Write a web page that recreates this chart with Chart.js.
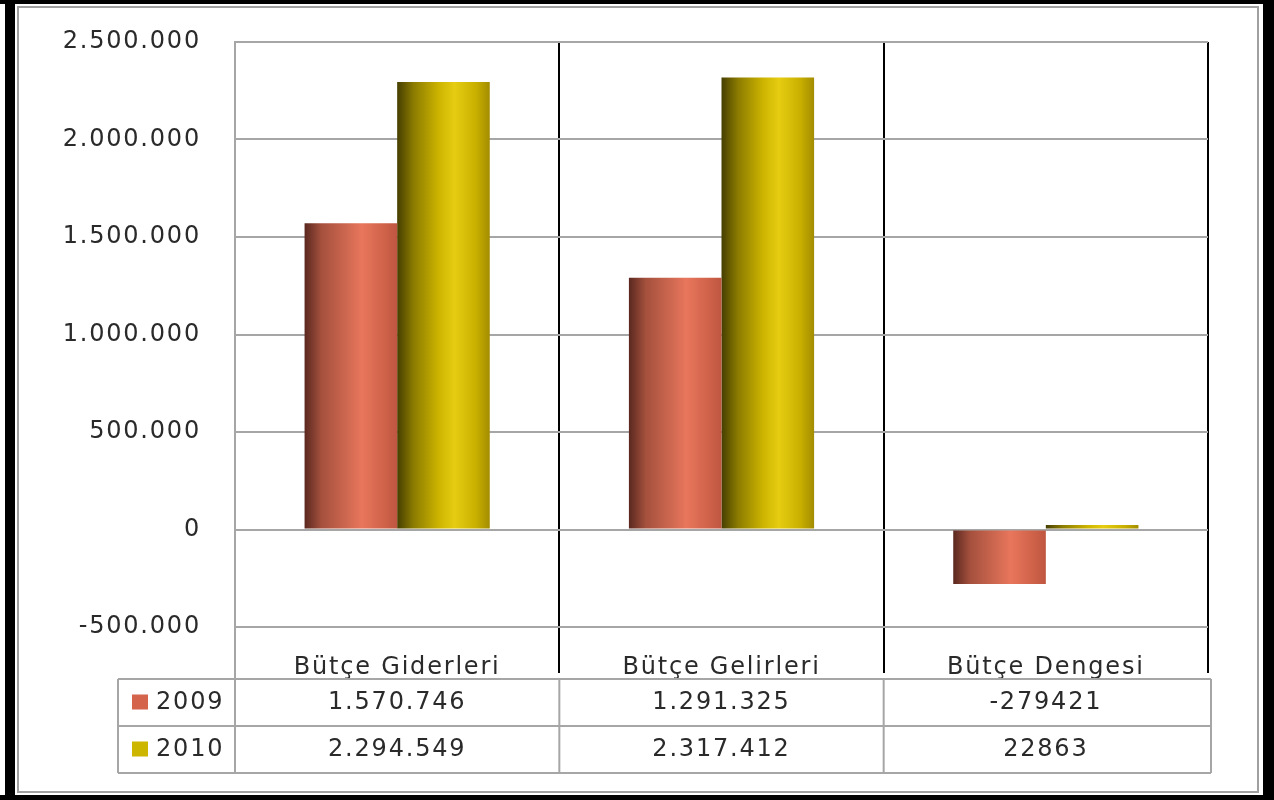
<!DOCTYPE html>
<html>
<head>
<meta charset="utf-8">
<script src="https://cdn.jsdelivr.net/npm/chart.js@4/dist/chart.umd.min.js"></script>
<style>
    body { margin: 0; background: #fff; }
    canvas { display: block; }
</style>
</head>
<body>
<canvas id="budget-chart" width="1274" height="800"></canvas>
<script>

const categories = ["Bütçe Giderleri", "Bütçe Gelirleri", "Bütçe Dengesi"];
const seriesNames = ["2009", "2010"];
const values2009 = [1570746, 1291325, -279421];
const values2010 = [2294549, 2317412, 22863];
// the data table uses dot grouping only for the first two columns
const tableDotted = [true, true, false];
const yTicks = [-500000, 0, 500000, 1000000, 1500000, 2000000, 2500000];

const FONT = "'DejaVu Sans', Verdana, sans-serif";
const TEXT_COLOR = "#2a2a2a";
const GRID_GREY = "#a6a6a6";
const keyColors = ["#d4654c", "#cdb600"];

function dotted(v) {
    const s = String(Math.abs(v)).replace(/\B(?=(\d{3})+(?!\d))/g, ".");
    return (v < 0 ? "-" : "") + s;
}

function tableText(v, i) {
    return tableDotted[i] ? dotted(v) : String(v);
}

// cylinder-like shading, one gradient per bar
const barStops = [
    [[0, "#5a281f"], [0.18, "#a4503d"], [0.62, "#e8765c"], [0.85, "#d0634a"], [1, "#bf5640"]],
    [[0, "#463e00"], [0.18, "#8c7c00"], [0.45, "#cdb400"], [0.62, "#e6cd12"], [0.85, "#c9b000"], [1, "#a38c00"]]
];

const shadingPlugin = {
    id: "shading",
    beforeDraw(chart) {
        const ctx = chart.ctx;
        ctx.letterSpacing = "1.8px";
        ctx.fillStyle = "#fff";
        ctx.fillRect(0, 0, chart.width, chart.height);
    },
    beforeDatasetsDraw(chart) {
        const ctx = chart.ctx;
        chart.data.datasets.forEach((ds, di) => {
            const meta = chart.getDatasetMeta(di);
            meta.data.forEach(el => {
                const g = ctx.createLinearGradient(el.x - el.width / 2, 0, el.x + el.width / 2, 0);
                barStops[di].forEach(s => g.addColorStop(s[0], s[1]));
                el.options.backgroundColor = g;
            });
        });
    }
};

const tablePlugin = {
    id: "dataTable",
    afterDraw(chart) {
        const ctx = chart.ctx;
        const x = chart.scales.x;
        const colW = x.width / categories.length;
        const left = 118;
        const rows = [679, 726, 773];
        const edges = [left];
        for (let i = 0; i <= categories.length; i++) edges.push(x.left + i * colW);

        ctx.save();
        ctx.strokeStyle = GRID_GREY;
        ctx.lineWidth = 2;
        ctx.beginPath();
        rows.forEach(y => {
            ctx.moveTo(left, y);
            ctx.lineTo(x.right + 3, y);
        });
        edges.forEach((ex, i) => {
            ctx.moveTo(i === edges.length - 1 ? ex + 3 : ex, rows[0]);
            ctx.lineTo(i === edges.length - 1 ? ex + 3 : ex, rows[2]);
        });
        ctx.moveTo(x.left, x.top);
        ctx.lineTo(x.left, rows[0]);
        ctx.stroke();

        ctx.letterSpacing = "1.8px";
        ctx.font = "24px " + FONT;
        ctx.textBaseline = "middle";
        [values2009, values2010].forEach((vals, r) => {
            const cy = (rows[r] + rows[r + 1]) / 2;
            ctx.fillStyle = keyColors[r];
            ctx.fillRect(132, cy - 8, 16, 15);
            ctx.fillStyle = TEXT_COLOR;
            ctx.textAlign = "left";
            ctx.fillText(seriesNames[r], 156, cy);
            ctx.textAlign = "center";
            vals.forEach((v, i) => {
                ctx.fillText(tableText(v, i), x.getPixelForValue(i), cy);
            });
        });

        // outer frame
        ctx.fillStyle = "#000";
        ctx.fillRect(5, 0, 10, 800);
        ctx.fillRect(0, 0, 1274, 4);
        ctx.fillRect(1263, 0, 11, 800);
        ctx.fillRect(0, 795, 1274, 5);
        ctx.strokeStyle = "#a0a0a0";
        ctx.lineWidth = 2;
        ctx.strokeRect(18, 7, 1240, 785);
        ctx.restore();
    }
};

const ctx = document.getElementById("budget-chart").getContext("2d");

new Chart(ctx, {
    type: "bar",
    data: {
        labels: categories,
        datasets: [
            {
                label: seriesNames[0],
                data: values2009,
                backgroundColor: () => keyColors[0],
                borderWidth: 0
            },
            {
                label: seriesNames[1],
                data: values2010,
                backgroundColor: () => keyColors[1],
                borderWidth: 0
            }
        ]
    },
    options: {
        responsive: false,
        animation: false,
        categoryPercentage: 0.571,
        barPercentage: 1,
        layout: { padding: { top: 42, right: 66, left: 0, bottom: 0 } },
        plugins: {
            legend: { display: false },
            tooltip: { enabled: false }
        },
        scales: {
            x: {
                afterFit(scale) { scale.height = 173; },
                border: { display: false },
                grid: {
                    offset: true,
                    tickLength: 46,
                    lineWidth: 2,
                    color: c => c.index === 0 ? GRID_GREY : "#000"
                },
                ticks: {
                    autoSkip: false,
                    maxRotation: 0,
                    padding: -20,
                    color: TEXT_COLOR,
                    font: { family: FONT, size: 24 }
                }
            },
            y: {
                min: -500000,
                max: 2500000,
                afterFit(scale) {
                    scale.width = 235;
                    scale.paddingTop = 0;
                    scale.paddingBottom = 0;
                },
                afterBuildTicks(scale) {
                    scale.ticks = yTicks.map(v => ({ value: v }));
                },
                border: { display: true, color: GRID_GREY, width: 2 },
                grid: {
                    drawTicks: false,
                    color: GRID_GREY,
                    lineWidth: 2
                },
                ticks: {
                    padding: 34,
                    color: TEXT_COLOR,
                    font: { family: FONT, size: 24 },
                    callback: v => dotted(v)
                }
            }
        }
    },
    plugins: [shadingPlugin, tablePlugin]
});

</script>
</body>
</html>
